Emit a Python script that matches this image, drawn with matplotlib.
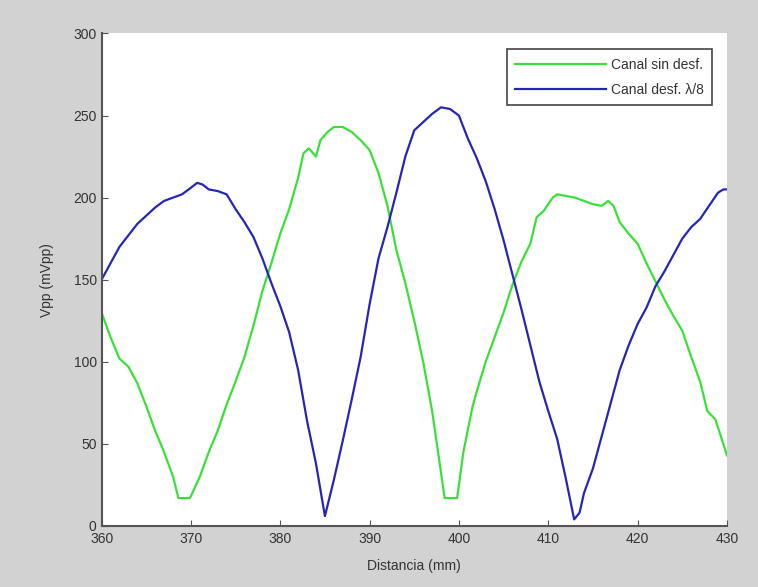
import numpy as np
from matplotlib import pyplot as plt

# Canal sin desfase (verde)
dist_sin = [360.0, 361.0, 362.0, 363.0, 364.0, 365.0, 366.0, 367.0, 368.0, 368.6,
            369.9, 371.0, 372.0, 373.0, 374.0, 375.0, 376.0, 377.0, 378.0, 379.0,
            380.0, 381.0, 382.0, 382.6, 383.2, 384.0, 384.5, 385.3, 386.0, 387.0,
            388.0, 389.0, 390.0, 391.0, 392.0, 393.0, 394.0, 395.0, 396.0, 397.0,
            397.8, 398.4, 399.8, 400.5, 401.5, 402.0, 403.0, 404.0, 405.0, 406.0,
            407.0, 408.0, 408.7, 409.5, 410.5, 411.0, 412.0, 413.0, 414.0, 415.0,
            416.0, 416.7, 417.3, 418.0, 419.0, 420.0, 421.0, 422.0, 423.0, 424.0,
            425.0, 426.0, 427.0, 427.8, 428.7, 429.3, 430.0]
vpp_sin = [130, 115, 102, 97, 87, 73, 58, 45, 30, 17,
           17, 30, 45, 58, 74, 88, 103, 122, 143, 160,
           178, 193, 212, 227, 230, 225, 235, 240, 243, 243,
           240, 235, 229, 215, 195, 168, 148, 125, 100, 70,
           40, 17, 17, 45, 72, 82, 100, 115, 130, 147,
           161, 172, 188, 192, 200, 202, 201, 200, 198, 196,
           195, 198, 195, 185, 178, 172, 160, 149, 138, 128,
           119, 103, 88, 70, 65, 55, 43]

# Canal desfasado lambda/8 (azul)
dist_desf = [360.0, 361.0, 362.0, 363.0, 364.0, 365.0, 366.0, 367.0, 368.0, 369.0,
             370.0, 370.7, 371.3, 372.0, 373.0, 374.0, 375.0, 376.0, 377.0, 378.0,
             379.0, 380.0, 381.0, 382.0, 383.0, 384.0, 385.0, 386.0, 387.0, 388.0,
             389.0, 390.0, 391.0, 392.0, 393.0, 394.0, 395.0, 396.0, 397.0, 398.0,
             399.0, 400.0, 401.0, 402.0, 403.0, 404.0, 405.0, 406.0, 407.0, 408.0,
             409.0, 410.0, 411.0, 412.0, 412.9, 413.5, 414.0, 415.0, 416.0, 417.0,
             418.0, 419.0, 420.0, 421.0, 422.0, 423.0, 424.0, 425.0, 426.0, 427.0,
             428.0, 429.0, 429.6, 430.0]
vpp_desf = [150, 160, 170, 177, 184, 189, 194, 198, 200, 202,
            206, 209, 208, 205, 204, 202, 193, 185, 176, 163,
            148, 134, 118, 95, 64, 38, 6, 28, 52, 77,
            103, 135, 163, 182, 203, 225, 241, 246, 251, 255,
            254, 250, 236, 224, 210, 193, 174, 153, 132, 110,
            88, 70, 53, 28, 4, 8, 20, 35, 55, 75,
            95, 110, 123, 133, 146, 155, 165, 175, 182, 187,
            195, 203, 205, 205]

x_ticks = [360, 370, 380, 390, 400, 410, 420, 430]
y_ticks = [0, 50, 100, 150, 200, 250, 300]

plt.rcParams['font.family'] = ['Liberation Sans', 'DejaVu Sans']

fig = plt.figure(figsize=(7.58, 5.87), dpi=100, facecolor='#d2d2d2')
ax = fig.add_axes([0.134, 0.104, 0.825, 0.839])
ax.set_facecolor('white')

ax.plot(dist_sin, vpp_sin, color='#3ae03a', linewidth=1.6, label='Canal sin desf.')
ax.plot(dist_desf, vpp_desf, color='#2626b4', linewidth=1.6, label='Canal desf. λ/8')

ax.set_xlim(360, 430)
ax.set_ylim(0, 300)
ax.set_xticks(x_ticks)
ax.set_yticks(y_ticks)
ax.tick_params(direction='in', length=4, colors='#555555', labelcolor='#333333',
               labelsize=10)
ax.tick_params(axis='x', pad=4)

for side in ['top', 'right']:
    ax.spines[side].set_visible(False)
for side in ['left', 'bottom']:
    ax.spines[side].set_color('#555555')
    ax.spines[side].set_linewidth(1.5)

ax.set_xlabel('Distancia (mm)', fontsize=10, color='#333333', labelpad=10)
ax.set_ylabel('Vpp (mVpp)', fontsize=10, color='#333333', labelpad=14)

leg = ax.legend(loc='upper right', fontsize=10, fancybox=False, framealpha=1,
                edgecolor='#444444', handlelength=6.5, borderpad=0.6,
                labelspacing=0.8, handletextpad=0.4,
                bbox_to_anchor=(0.988, 0.982))
leg.get_frame().set_linewidth(1.2)
for t in leg.get_texts():
    t.set_color('#333333')

plt.savefig('out.png', dpi=100, facecolor=fig.get_facecolor())
